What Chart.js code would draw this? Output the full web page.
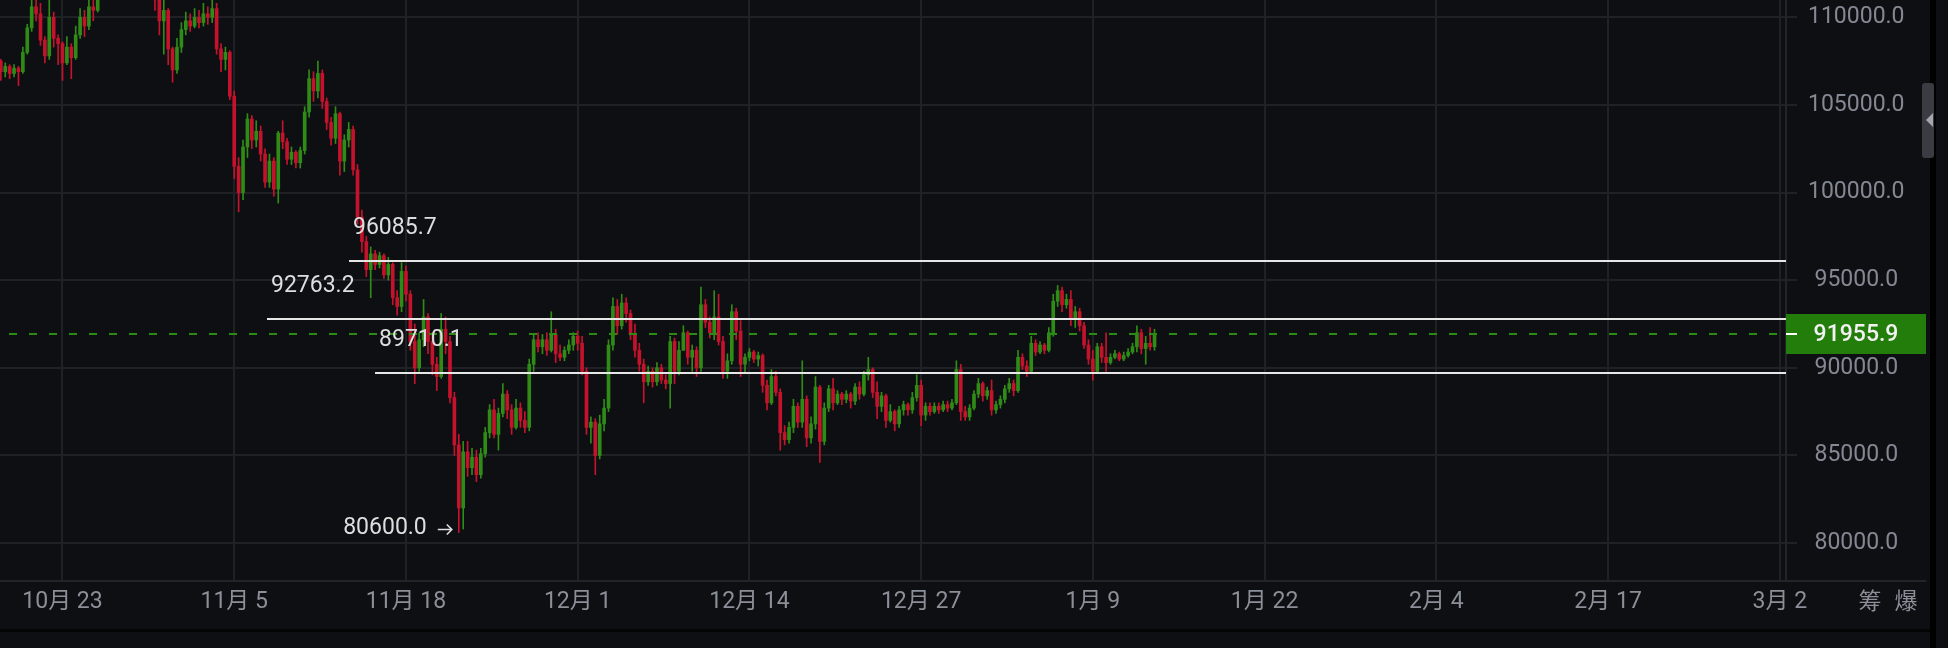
<!DOCTYPE html>
<html>
<head>
<meta charset="utf-8">
<title>BTC K线</title>
<script src="https://cdn.jsdelivr.net/npm/chart.js@4.4.1/dist/chart.umd.min.js"></script>
<style>
  html, body { margin: 0; padding: 0; background: #0e0f12; }
  canvas { display: block; }
</style>
</head>
<body>
<canvas id="kline" width="1948" height="648"></canvas>
<script>
/* ── DATA (8h candles, prices in thousands) ───────────────────── */
// day 0 = 10月23, first candle = 10月18 08:00
const FIRST_DAY = -14 / 3;
const STEP_DAY  = 1 / 3;
const firstOpen = 107.5;

const closes = [
  106.9, 107.2, 106.8, 107.1, 106.9, 108.0, 109.4, 110.6, 110.2, 108.7,
  107.8, 110.0, 108.8, 108.5, 107.4, 108.3, 107.7, 109.0, 110.0, 109.5,
  110.6, 110.4, 111.4, 112.3, 111.9, 113.0, 114.2, 114.8, 114.3, 113.6,
  112.9, 113.2, 112.4, 111.6, 111.9, 111.0, 109.8, 110.4, 108.2, 107.0,
  108.3, 109.3, 109.8, 109.5, 110.0, 109.7, 110.2, 110.0, 110.5, 108.2,
  107.6, 108.0, 105.5, 101.5, 100.0, 102.6, 104.2, 103.0, 103.5, 102.2,
  100.6, 101.8, 100.2, 103.4, 102.9, 101.9, 102.3, 101.7, 102.4, 104.6,
  106.5, 105.8, 106.8, 105.2, 104.0, 103.1, 104.5, 101.8, 103.0, 103.6,
  101.3, 98.6, 97.2, 95.6, 96.5, 95.9, 96.4, 95.3, 95.9, 94.0,
  93.5, 95.5, 94.2, 91.5, 90.0, 91.6, 92.9, 91.5, 90.2, 89.5,
  92.2, 91.5, 88.3, 85.6, 82.0, 85.2, 84.3, 84.9, 83.9, 85.1,
  86.3, 87.6, 86.2, 87.4, 88.5, 87.6, 86.6, 87.7, 87.0, 86.6,
  90.2, 91.6, 91.2, 91.6, 91.0, 91.9, 90.8, 90.6, 91.0, 91.3,
  91.8, 91.4, 89.8, 86.6, 86.9, 85.0, 86.8, 87.7, 91.3, 93.5,
  92.4, 93.7, 93.1, 91.9, 91.0, 90.2, 89.2, 89.8, 89.2, 90.0,
  89.3, 89.1, 91.5, 89.8, 91.0, 92.0, 90.6, 91.0, 90.0, 93.6,
  92.6, 92.0, 92.9, 91.5, 89.8, 90.4, 93.2, 92.1, 90.2, 90.6,
  90.9, 90.5, 90.7, 89.0, 88.0, 89.5, 88.6, 86.3, 85.9, 86.6,
  87.8, 86.9, 88.2, 86.0, 86.8, 88.9, 85.8, 87.7, 88.8, 88.0,
  88.5, 88.2, 88.5, 88.1, 88.9, 88.5, 89.6, 89.9, 88.6, 87.8,
  88.4, 87.0, 87.5, 86.8, 87.6, 87.9, 87.6, 88.3, 89.0, 87.3,
  87.8, 87.5, 87.8, 87.6, 87.9, 87.7, 88.0, 89.9, 87.5, 87.2,
  87.7, 88.5, 89.1, 88.4, 88.7, 87.6, 87.9, 88.2, 88.8, 89.1,
  88.7, 90.6, 90.1, 89.8, 91.4, 90.9, 91.3, 91.0, 92.0, 93.8,
  94.4, 93.6, 93.9, 92.8, 93.2, 92.4, 91.3, 90.5, 89.8, 91.2,
  90.6, 90.3, 90.6, 90.8, 90.5, 90.7, 90.9, 91.2, 92.0, 91.1,
  91.4, 91.2, 91.9559
];

const highs = [
  107.6, 107.4, 107.3, 107.3, 107.2, 108.3, 109.6, 111.2, 111.6, 110.8,
  108.9, 111.3, 110.3, 109.0, 108.6, 108.9, 108.5, 109.5, 110.5, 110.4,
  111.2, 111.3, 112.0, 112.8, 112.6, 113.4, 114.6, 115.5, 115.3, 114.6,
  113.9, 113.6, 113.4, 112.8, 112.4, 112.0, 111.5, 111.3, 110.5, 108.3,
  108.8, 109.7, 110.3, 110.2, 110.5, 110.4, 110.8, 110.6, 111.0, 110.8,
  108.5, 108.3, 108.1, 105.8, 102.0, 103.0, 104.5, 104.4, 104.1, 103.8,
  102.5, 102.2, 102.0, 103.5, 104.1, 103.1, 102.6, 102.4, 102.6, 104.9,
  107.0, 106.9, 107.5, 107.0, 105.4, 104.3, 104.9, 104.6, 103.3, 104.0,
  103.8, 101.6, 99.0, 97.5, 96.9, 96.7, 96.6, 96.5, 96.3, 96.0,
  94.4, 96.0, 95.8, 94.4, 92.5, 92.0, 93.9, 93.1, 92.0, 90.6,
  93.1, 92.9, 91.8, 88.6, 86.2, 85.8, 85.8, 85.4, 85.3, 85.4,
  86.6, 87.9, 88.2, 87.7, 89.1, 88.7, 87.9, 88.2, 88.0, 87.5,
  90.5, 91.9, 92.0, 91.9, 92.0, 93.2, 92.2, 91.3, 91.2, 91.6,
  92.0, 92.1, 91.8, 90.0, 87.2, 87.1, 87.3, 88.2, 91.6, 94.0,
  93.9, 94.2, 94.0, 93.3, 92.5, 91.4, 90.5, 90.1, 90.0, 90.3,
  90.2, 89.6, 91.8, 91.7, 91.5, 92.4, 92.1, 91.3, 91.2, 94.6,
  93.9, 92.9, 94.4, 94.2, 91.8, 90.8, 93.6, 93.4, 92.7, 90.8,
  91.1, 91.0, 90.9, 90.8, 89.3, 89.9, 89.8, 88.8, 86.7, 86.9,
  88.2, 88.0, 90.4, 88.4, 87.2, 89.5, 89.0, 88.0, 89.0, 89.4,
  88.7, 88.6, 88.7, 88.6, 89.1, 89.2, 89.8, 90.6, 90.0, 89.2,
  88.6, 88.5, 87.9, 87.6, 87.8, 88.1, 88.0, 88.6, 89.6, 89.3,
  88.0, 88.0, 88.0, 88.0, 88.1, 88.1, 88.2, 90.4, 90.2, 87.8,
  87.9, 88.7, 89.4, 89.2, 88.9, 89.3, 88.1, 88.4, 89.0, 89.4,
  89.3, 91.0, 90.8, 90.4, 91.8, 91.6, 91.5, 91.4, 92.3, 94.2,
  94.7, 94.6, 94.2, 94.4, 93.5, 93.4, 92.6, 91.6, 91.0, 91.4,
  91.4, 92.0, 90.8, 91.0, 90.9, 90.9, 91.1, 91.4, 92.4, 92.2,
  91.8, 92.3, 92.2
];

const lows = [
  106.4, 106.6, 106.5, 106.6, 106.1, 106.8, 107.9, 109.2, 109.8, 108.4,
  107.4, 107.6, 108.3, 107.3, 106.4, 107.3, 106.5, 107.6, 108.8, 108.9,
  109.3, 109.8, 110.3, 111.2, 111.5, 111.8, 112.9, 113.9, 113.8, 113.2,
  112.4, 112.5, 111.9, 111.3, 111.4, 110.4, 109.0, 107.9, 107.3, 106.3,
  106.8, 108.0, 109.0, 109.2, 109.4, 109.4, 109.5, 109.6, 109.7, 107.9,
  106.9, 107.0, 105.3, 100.8, 98.9, 99.6, 102.0, 102.5, 102.6, 101.8,
  100.3, 100.3, 99.8, 99.4, 102.5, 101.6, 101.6, 101.4, 101.4, 102.2,
  104.3, 105.2, 105.4, 104.8, 103.6, 102.7, 102.8, 101.0, 101.2, 102.6,
  101.0, 98.2, 96.6, 95.2, 94.0, 95.6, 95.7, 95.1, 95.0, 93.6,
  93.0, 93.2, 93.8, 91.0, 89.1, 89.8, 91.2, 90.8, 89.6, 88.7,
  89.4, 90.8, 88.0, 85.0, 80.6, 80.8, 83.8, 83.9, 83.5, 83.7,
  84.9, 86.0, 86.0, 85.3, 87.2, 87.1, 86.2, 86.5, 86.6, 86.3,
  86.4, 89.8, 90.9, 90.8, 90.7, 90.9, 90.3, 90.4, 90.4, 90.8,
  91.0, 91.0, 89.6, 86.2, 85.7, 83.9, 84.8, 86.4, 87.5, 91.0,
  91.9, 92.2, 92.6, 91.6, 90.6, 89.8, 88.0, 89.0, 88.9, 89.0,
  89.1, 88.8, 87.7, 89.1, 89.6, 91.0, 90.2, 89.8, 89.5, 89.8,
  92.3, 91.7, 91.6, 91.3, 89.4, 89.4, 90.2, 91.6, 89.5, 89.7,
  90.4, 90.3, 90.1, 88.6, 87.6, 87.9, 88.4, 85.3, 85.6, 85.7,
  86.3, 86.6, 86.6, 85.5, 85.7, 86.5, 84.6, 85.6, 87.5, 87.6,
  87.9, 87.9, 88.0, 87.7, 87.9, 88.2, 88.4, 89.3, 88.3, 87.1,
  87.5, 86.6, 86.9, 86.4, 86.6, 87.3, 87.3, 87.4, 88.1, 86.7,
  87.0, 87.3, 87.4, 87.4, 87.5, 87.5, 87.6, 87.9, 87.0, 87.0,
  87.0, 87.6, 88.3, 88.1, 88.2, 87.3, 87.4, 87.7, 88.0, 88.6,
  88.4, 88.6, 89.9, 89.5, 89.7, 90.7, 90.8, 90.8, 90.9, 91.8,
  93.5, 93.2, 93.4, 92.4, 92.3, 92.1, 91.1, 90.2, 89.3, 89.7,
  90.3, 89.8, 90.2, 90.5, 90.4, 90.4, 90.6, 90.8, 90.9, 90.8,
  90.2, 91.0, 91.0
];

// axis ticks
const tickDays   = [0, 13, 26, 39, 52, 65, 78, 91, 104, 117, 130];
const tickLabels = ['10月 23', '11月 5', '11月 18', '12月 1', '12月 14', '12月 27',
                    '1月 9', '1月 22', '2月 4', '2月 17', '3月 2'];
const priceTicks = [80000, 85000, 90000, 95000, 100000, 105000, 110000];

// drawn levels
const levelValues    = [96085.7, 92763.2, 89710.1];
const levelStartDays = [21.69, 15.48, 23.66];
const lastPrice = 91955.9;
const lowMark   = 80600.0;
const lowMarkDay = 30.0;

/* ── STYLE ──────────────────────────────────────────────────── */
const FONT = 'Roboto, "Noto Sans CJK SC", sans-serif';
const UP   = '#2f8c17';
const DOWN = '#c5132d';
const GRID = '#1f2125';

/* ── BUILD CANDLES ──────────────────────────────────────────── */
const candles = closes.map((c, i) => {
  const o = i === 0 ? firstOpen : closes[i - 1];
  return {
    x: FIRST_DAY + i * STEP_DAY,
    o: o * 1000,
    c: c * 1000,
    h: Math.max(highs[i], o, c) * 1000,
    l: Math.min(lows[i], o, c) * 1000,
  };
});
const candleColors = candles.map(k => (k.c >= k.o ? UP : DOWN));

/* ── OVERLAY PLUGIN ─────────────────────────────────────────── */
const overlay = {
  id: 'overlay',
  beforeDraw(chart) {
    const ctx = chart.ctx;
    ctx.save();
    ctx.fillStyle = '#0e0f12';
    ctx.fillRect(0, 0, chart.width, chart.height);
    ctx.restore();
  },
  afterDatasetsDraw(chart) {
    const { ctx, chartArea } = chart;
    const xs = chart.scales.x, ys = chart.scales.y;
    ctx.save();

    // current price dashed line
    const py = Math.round(ys.getPixelForValue(lastPrice));
    ctx.strokeStyle = '#2a8a14';
    ctx.lineWidth = 2;
    ctx.setLineDash([8, 12]);
    ctx.lineDashOffset = -9;
    ctx.beginPath();
    ctx.moveTo(0, py);
    ctx.lineTo(chartArea.right, py);
    ctx.stroke();
    ctx.setLineDash([]);

    // horizontal levels
    ctx.font = '23px ' + FONT;
    ctx.textBaseline = 'middle';
    ctx.textAlign = 'left';
    levelValues.forEach((v, i) => {
      const y = Math.round(ys.getPixelForValue(v));
      const x0 = xs.getPixelForValue(levelStartDays[i]);
      ctx.strokeStyle = '#e6e6e6';
      ctx.lineWidth = 2;
      ctx.beginPath();
      ctx.moveTo(x0, y);
      ctx.lineTo(chartArea.right, y);
      ctx.stroke();
      ctx.fillStyle = '#dedede';
      ctx.fillText(v.toFixed(1), x0 + 4, y - 33);
    });

    // lowest price marker: text + small arrow
    const tipX = xs.getPixelForValue(lowMarkDay) - 7;
    const ly = ys.getPixelForValue(lowMark) - 4;
    ctx.textAlign = 'right';
    ctx.fillText(lowMark.toFixed(1), tipX - 25, ly);
    ctx.strokeStyle = '#dedede';
    ctx.lineWidth = 1.6;
    ctx.beginPath();
    ctx.moveTo(tipX - 14, ly + 1);
    ctx.lineTo(tipX, ly + 1);
    ctx.moveTo(tipX - 5, ly - 4);
    ctx.lineTo(tipX, ly + 1);
    ctx.lineTo(tipX - 5, ly + 6);
    ctx.stroke();
    ctx.restore();
  },
  afterDraw(chart) {
    const { ctx, chartArea } = chart;
    const ys = chart.scales.y;
    ctx.save();

    // x axis separator + bottom bar
    ctx.fillStyle = '#222428';
    ctx.fillRect(0, chartArea.bottom, 1926, 2);
    ctx.fillStyle = '#050506';
    ctx.fillRect(0, 629, 1934, 3);

    // last price tag
    const py = Math.round(ys.getPixelForValue(lastPrice));
    ctx.fillStyle = '#237d0b';
    ctx.fillRect(chartArea.right, py - 20, 140, 40);
    ctx.fillStyle = '#ffffff';
    ctx.fillRect(chartArea.right, py - 1, 11, 2);
    ctx.fillStyle = '#f2f2f2';
    ctx.font = '500 23px ' + FONT;
    ctx.textAlign = 'center';
    ctx.textBaseline = 'middle';
    ctx.fillText(lastPrice.toFixed(1), 1856, py + 1);

    // 筹 爆
    ctx.fillStyle = '#8b8f98';
    ctx.font = '23px ' + FONT;
    ctx.fillText('筹', 1870, 603);
    ctx.fillText('爆', 1906, 603);

    // right edge strip + collapse handle
    ctx.fillStyle = '#000000';
    ctx.fillRect(1930, 0, 6, chart.height);
    ctx.fillStyle = '#3a3c42';
    ctx.beginPath();
    ctx.roundRect(1922, 83, 12, 75, 3);
    ctx.fill();
    ctx.fillStyle = '#a2a6ad';
    ctx.beginPath();
    ctx.moveTo(1926, 120);
    ctx.lineTo(1933, 113);
    ctx.lineTo(1933, 127);
    ctx.closePath();
    ctx.fill();
    ctx.restore();
  },
};

/* ── CHART ──────────────────────────────────────────────────── */
const ctx = document.getElementById('kline').getContext('2d');
new Chart(ctx, {
  type: 'bar',
  data: {
    datasets: [
      {
        label: 'wick',
        data: candles.map(k => ({ x: k.x, y: [k.l, k.h] })),
        backgroundColor: candleColors,
        barThickness: 1,
        grouped: false,
      },
      {
        label: 'body',
        data: candles.map(k => ({ x: k.x, y: [Math.min(k.o, k.c), Math.max(k.o, k.c)] })),
        backgroundColor: candleColors,
        barThickness: 3,
        minBarLength: 1,
        grouped: false,
      },
    ],
  },
  options: {
    responsive: false,
    animation: false,
    devicePixelRatio: 1,
    layout: { padding: 0 },
    plugins: { legend: { display: false }, tooltip: { enabled: false } },
    scales: {
      x: {
        type: 'linear',
        min: -4.731,
        max: 130.47,
        offset: false,
        afterBuildTicks: ax => { ax.ticks = tickDays.map(v => ({ value: v })); },
        afterFit: ax => { ax.height = 68; ax.paddingLeft = 0; ax.paddingRight = 0; },
        grid: { color: GRID, lineWidth: 2, drawTicks: false, offset: false },
        border: { display: false },
        ticks: {
          autoSkip: false,
          maxRotation: 0,
          padding: 8,
          color: '#8b8f98',
          font: { family: FONT, size: 23 },
          callback: v => tickLabels[tickDays.indexOf(v)],
        },
      },
      y: {
        type: 'linear',
        position: 'right',
        min: 77890,
        max: 110990,
        afterBuildTicks: ax => { ax.ticks = priceTicks.map(v => ({ value: v })); },
        afterFit: ax => { ax.width = 162; ax.paddingTop = 0; ax.paddingBottom = 0; },
        grid: { color: GRID, lineWidth: 2, drawTicks: true, tickLength: 11, tickColor: GRID },
        border: { display: true, color: '#222428', width: 2 },
        ticks: {
          crossAlign: 'center',
          padding: 11,
          color: '#838893',
          font: { family: FONT, size: 23 },
          callback: v => v.toFixed(1),
        },
      },
    },
  },
  plugins: [overlay],
});
</script>
</body>
</html>
